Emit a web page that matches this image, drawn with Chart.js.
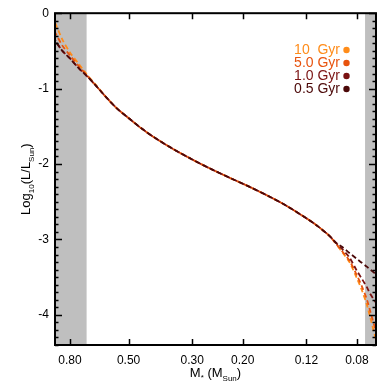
<!DOCTYPE html>
<html>
<head>
<meta charset="utf-8">
<script src="https://cdn.jsdelivr.net/npm/chart.js@4"></script>
<style>
  html, body { margin: 0; padding: 0; background: #fff; }
  #wrap { width: 390px; height: 390px; }
</style>
</head>
<body>
<div id="wrap"><canvas id="massLum"></canvas></div>
<script>
// stellar mass grid (M_sun) and log10(L/L_sun) for each age
const masses = [0.90, 0.85, 0.80, 0.75, 0.70, 0.65, 0.60, 0.55, 0.50, 0.45, 0.40, 0.35, 0.30, 0.26, 0.22, 0.19, 0.16, 0.14, 0.12, 0.11, 0.10, 0.095, 0.09, 0.085, 0.08, 0.077, 0.074, 0.072, 0.0687];
const lum10Gyr = [-0.13, -0.35, -0.52, -0.66, -0.81, -0.95, -1.11, -1.26, -1.39, -1.53, -1.665, -1.80, -1.94, -2.06, -2.19, -2.30, -2.44, -2.56, -2.72, -2.82, -2.95, -3.05, -3.17, -3.30, -3.52, -3.67, -3.86, -4.03, -4.33];
const lum5Gyr  = [-0.26, -0.43, -0.56, -0.69, -0.82, -0.96, -1.11, -1.26, -1.39, -1.53, -1.665, -1.80, -1.94, -2.06, -2.19, -2.30, -2.44, -2.56, -2.72, -2.82, -2.95, -3.05, -3.16, -3.28, -3.48, -3.62, -3.79, -3.95, -4.22];
const lum1Gyr  = [-0.36, -0.50, -0.60, -0.72, -0.83, -0.96, -1.11, -1.26, -1.39, -1.53, -1.665, -1.80, -1.94, -2.06, -2.19, -2.30, -2.44, -2.56, -2.72, -2.82, -2.95, -3.04, -3.13, -3.24, -3.42, -3.52, -3.63, -3.72, -3.84];
const lum05Gyr = [-0.37, -0.50, -0.60, -0.72, -0.83, -0.96, -1.11, -1.26, -1.39, -1.53, -1.665, -1.80, -1.94, -2.06, -2.19, -2.30, -2.44, -2.56, -2.72, -2.82, -2.95, -3.04, -3.10, -3.18, -3.26, -3.31, -3.36, -3.40, -3.46];

const ageLabels = ['10  Gyr', '5.0 Gyr', '1.0 Gyr', '0.5 Gyr'];
const xTicks = [0.80, 0.50, 0.30, 0.20, 0.12, 0.08];
const yTicks = [0, -1, -2, -3, -4];
const shadedBands = [[0.95, 0.70], [0.075, 0.06]];

const colors = {
  age10: '#FF8C1A',
  age5: '#E8530E',
  age1: '#7A1212',
  age05: '#4B0808',
  band: '#BFBFBF'
};

const font = '"Liberation Sans", Arial, sans-serif';

function toPoints(lum) {
  return masses.map((m, i) => ({ x: m, y: lum[i] }));
}

function line(label, lum, color, offset, order) {
  return {
    label: label,
    data: toPoints(lum),
    borderColor: color,
    backgroundColor: color,
    borderWidth: 1.8,
    borderDash: [5, 3],
    borderDashOffset: offset,
    pointRadius: 0,
    tension: 0.3,
    fill: false,
    order: order
  };
}

// grey bands behind the curves
const bandsPlugin = {
  id: 'bands',
  beforeDatasetsDraw(chart) {
    const { ctx, chartArea: a, scales: { x } } = chart;
    ctx.save();
    ctx.fillStyle = colors.band;
    shadedBands.forEach(b => {
      let x1 = Math.max(a.left, Math.min(a.right, x.getPixelForValue(b[0])));
      let x2 = Math.max(a.left, Math.min(a.right, x.getPixelForValue(b[1])));
      ctx.fillRect(Math.min(x1, x2), a.top, Math.abs(x2 - x1), a.bottom - a.top);
    });
    ctx.restore();
  }
};

// frame, inward ticks, axis titles with subscripts, legend
const framePlugin = {
  id: 'frame',
  afterDatasetsDraw(chart) {
    const { ctx, chartArea: a, scales: { x, y } } = chart;
    ctx.save();
    ctx.strokeStyle = '#000';
    ctx.lineWidth = 1.5;
    ctx.beginPath();
    xTicks.forEach(v => {
      const px = Math.round(x.getPixelForValue(v)) + 0.5;
      ctx.moveTo(px, a.bottom); ctx.lineTo(px, a.bottom - 6);
      ctx.moveTo(px, a.top); ctx.lineTo(px, a.top + 6);
    });
    for (let k = 0; k >= -44; k--) {
      const v = k / 10;
      const py = Math.round(y.getPixelForValue(v)) + 0.5;
      const len = k % 10 === 0 ? 7 : 3.5;
      ctx.moveTo(a.left, py); ctx.lineTo(a.left + len, py);
      ctx.moveTo(a.right, py); ctx.lineTo(a.right - len, py);
    }
    ctx.stroke();
    ctx.lineWidth = 2;
    ctx.strokeRect(a.left, a.top, a.right - a.left, a.bottom - a.top);
    ctx.restore();
  },
  afterDraw(chart) {
    const { ctx, chartArea: a } = chart;
    ctx.save();
    ctx.fillStyle = '#000';
    ctx.textBaseline = 'alphabetic';

    function drawParts(parts, cx, baseline) {
      let total = 0;
      parts.forEach(p => { ctx.font = p[1] + 'px ' + font; total += ctx.measureText(p[0]).width; });
      let cur = cx - total / 2;
      parts.forEach(p => {
        ctx.font = p[1] + 'px ' + font;
        ctx.fillText(p[0], cur, baseline + p[2]);
        cur += ctx.measureText(p[0]).width;
      });
    }

    const cx = (a.left + a.right) / 2;
    drawParts([['M', 13, 0], ['*', 8, 3], [' (M', 13, 0], ['Sun', 8, 4], [')', 13, 0]], cx, 377);

    ctx.save();
    ctx.translate(30, (a.top + a.bottom) / 2);
    ctx.rotate(-Math.PI / 2);
    drawParts([['Log', 13, 0], ['10', 8, 4], ['(L/L', 13, 0], ['Sun', 8, 4], [')', 13, 0]], 0, 0);
    ctx.restore();

    // legend
    ctx.font = '14px ' + font;
    ctx.textAlign = 'right';
    ctx.textBaseline = 'middle';
    chart.data.datasets.forEach((ds, i) => {
      const ly = 50 + i * 13;
      ctx.fillStyle = ds.borderColor;
      ctx.fillText(ds.label, 340, ly);
      ctx.beginPath();
      ctx.arc(346.5, ly, 3.2, 0, Math.PI * 2);
      ctx.fill();
    });
    ctx.restore();
  }
};

new Chart(document.getElementById('massLum'), {
  type: 'line',
  data: {
    datasets: [
      line(ageLabels[0], lum10Gyr, colors.age10, 0, 3),
      line(ageLabels[1], lum5Gyr, colors.age5, 2, 2),
      line(ageLabels[2], lum1Gyr, colors.age1, 4, 1),
      line(ageLabels[3], lum05Gyr, colors.age05, 6, 0)
    ]
  },
  options: {
    responsive: true,
    maintainAspectRatio: false,
    animation: false,
    layout: { padding: { left: 0, right: 14, top: 10, bottom: 0 } },
    plugins: {
      legend: { display: false },
      tooltip: { enabled: false }
    },
    scales: {
      x: {
        type: 'logarithmic',
        reverse: true,
        min: 0.0687,
        max: 0.902,
        afterBuildTicks: s => { s.ticks = xTicks.map(v => ({ value: v })); },
        afterFit: s => { s.height = 45; },
        grid: { display: false, drawTicks: false },
        border: { display: false },
        ticks: {
          autoSkip: false,
          maxRotation: 0,
          padding: 8,
          color: '#000',
          font: { family: font, size: 12 },
          callback: v => Number(v).toFixed(2)
        }
      },
      y: {
        type: 'linear',
        min: -4.4,
        max: 0,
        afterBuildTicks: s => { s.ticks = yTicks.map(v => ({ value: v })); },
        afterFit: s => { s.width = 55; },
        grid: { display: false, drawTicks: false },
        border: { display: false },
        ticks: {
          padding: 6,
          color: '#000',
          font: { family: font, size: 12 },
          callback: v => String(v)
        }
      }
    }
  },
  plugins: [bandsPlugin, framePlugin]
});
</script>
</body>
</html>
